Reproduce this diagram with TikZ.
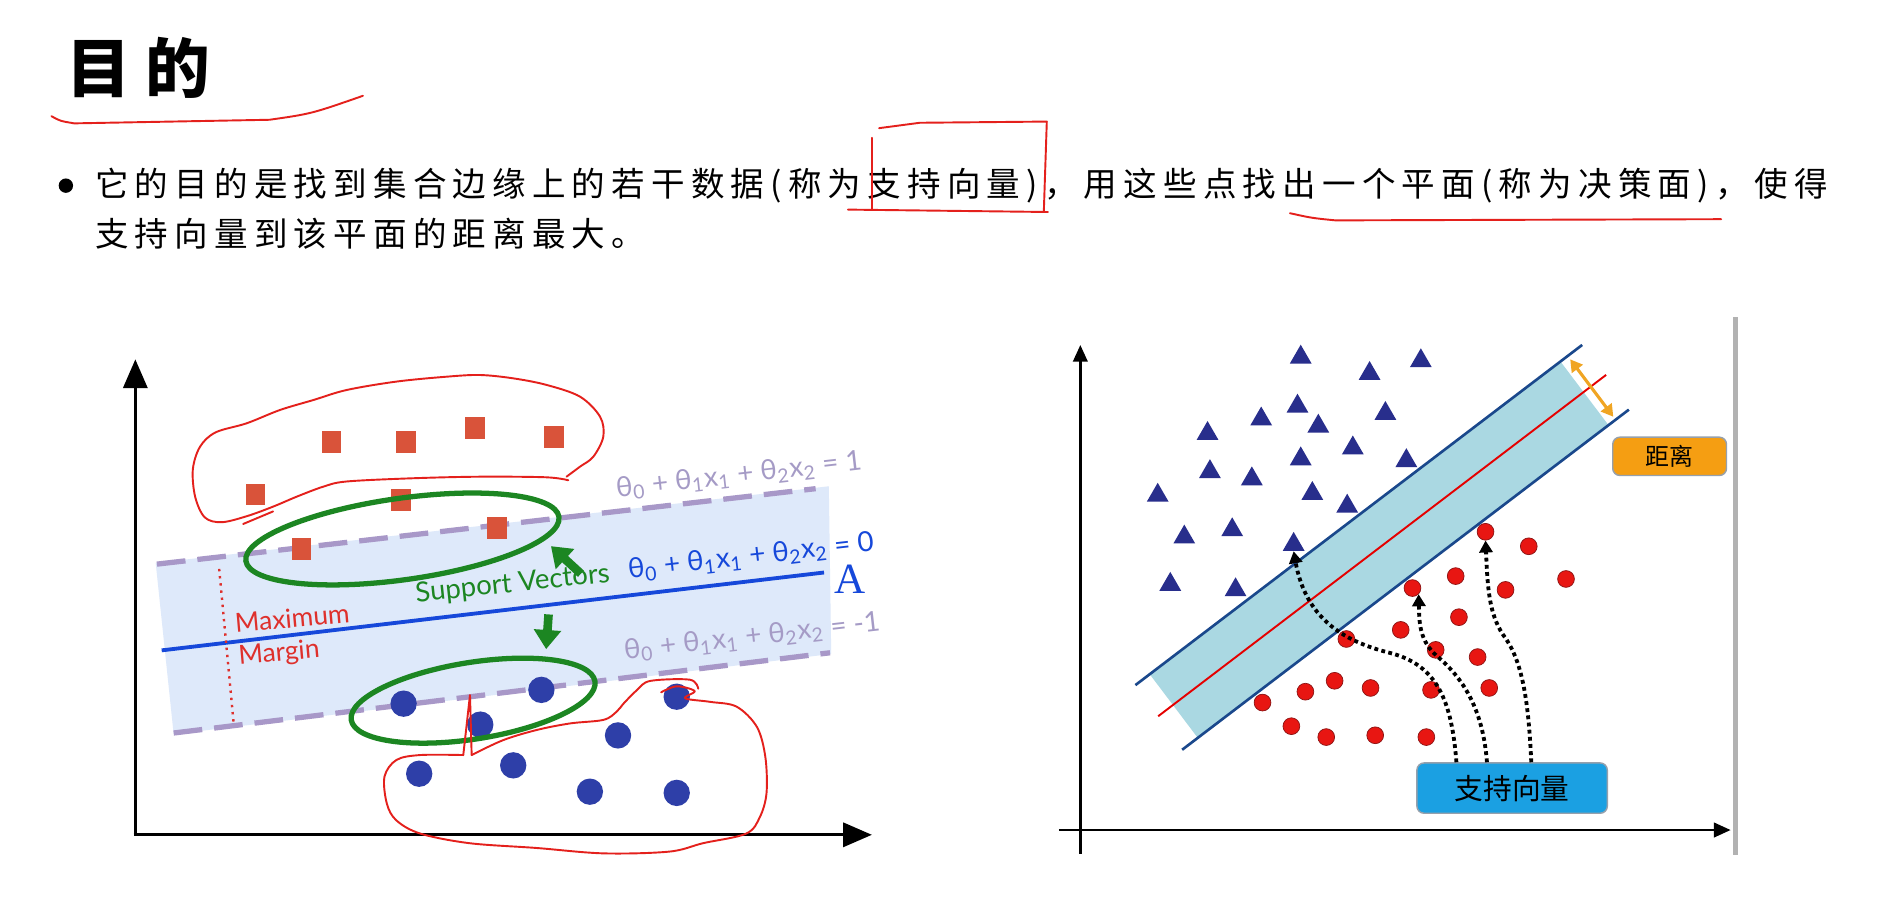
\documentclass[tikz,border=0pt]{standalone}
\usepackage{fontspec}
\usetikzlibrary{arrows.meta,shapes.geometric,calc}
\newfontfamily\cjk{Noto Sans CJK SC}
\newfontfamily\cjkline{Noto Sans CJK SC}[LetterSpace=18.5]
\newfontfamily\cjktitle{Noto Sans CJK SC}[LetterSpace=22]
\newfontfamily\lat{Lato}
\newfontfamily\serifA{Liberation Serif}
\definecolor{annored}{RGB}{228,32,28}
\definecolor{sqred}{RGB}{217,83,58}
\definecolor{dotblue}{RGB}{46,63,168}
\definecolor{svgreen}{RGB}{28,134,34}
\definecolor{bandblue}{RGB}{222,233,250}
\definecolor{dashpurple}{RGB}{168,152,200}
\definecolor{lineblue}{RGB}{22,72,218}
\definecolor{eqgray}{RGB}{165,155,198}
\definecolor{margred}{RGB}{222,48,44}
\definecolor{bandcyan}{RGB}{170,216,226}
\definecolor{navyline}{RGB}{26,72,140}
\definecolor{trinavy}{RGB}{40,46,140}
\definecolor{dotred}{RGB}{232,22,18}
\definecolor{dotredline}{RGB}{140,20,20}
\definecolor{distorange}{RGB}{240,165,35}
\definecolor{boxorange}{RGB}{245,158,18}
\definecolor{boxblue}{RGB}{27,160,226}
\definecolor{boxline}{RGB}{150,160,172}
\tikzset{
  anno/.style={annored, line width=0.8pt, line join=round, line cap=round},
  sqpt/.style={rectangle, fill=sqred, minimum width=8pt, minimum height=9pt, inner sep=0pt},
  cpt/.style={circle, fill=dotblue, minimum size=11pt, inner sep=0pt},
  tri/.style={regular polygon, regular polygon sides=3, fill=trinavy, minimum size=10.5pt, inner sep=0pt},
  rdot/.style={circle, fill=dotred, draw=dotredline, line width=0.3pt, minimum size=7pt, inner sep=0pt},
  bigaxis/.style={black, line width=1.4pt, -{Triangle[width=10pt,length=12pt]}},
  smallaxis/.style={black, line width=1.2pt, -{Triangle[width=6pt,length=7pt]}},
  dashline/.style={dashpurple, line width=2.2pt, dash pattern=on 12pt off 5pt},
  eqg/.style={eqgray, font=\lat\fontsize{11.6pt}{13pt}\selectfont, inner sep=0pt},
  eqb/.style={lineblue, font=\lat\fontsize{11.6pt}{13pt}\selectfont, inner sep=0pt},
  margtext/.style={margred, font=\lat\fontsize{11pt}{13pt}\selectfont, inner sep=0pt},
  svtext/.style={svgreen, font=\lat\fontsize{11.5pt}{13pt}\selectfont, inner sep=0pt},
  svarrow/.style={svgreen, line width=3.6pt, -{Triangle[width=11pt,length=8pt]}},
  dotarr/.style={black, line width=1.6pt, dash pattern=on 1.6pt off 1.4pt, -{Triangle[width=5.5pt,length=5pt]}},
  labelbox/.style={draw=boxline, line width=0.6pt, rounded corners=3pt, inner sep=0pt},
}
\begin{document}
\begin{tikzpicture}[x=0.5pt,y=-0.5pt]
\useasboundingbox (0,0) rectangle (1568,771);
\fill[white] (0,0) rectangle (1568,771);

% ---------- header ----------
\node[anchor=west, inner sep=0pt, font=\cjktitle\bfseries\fontsize{27pt}{30pt}\selectfont] (title) at (55,57) {目的};
\draw[anno] (43,97) .. controls (50,101) .. (62,103) -- (225,100) .. controls (260,95) .. (303,80);

\node[circle, fill=black, minimum size=6pt, inner sep=0pt] (bul) at (55,155) {};
\node[anchor=west, inner sep=0pt, font=\cjkline\fontsize{14pt}{16pt}\selectfont] (l1) at (79,155)
  {它的目的是找到集合边缘上的若干数据(称为支持向量)，用这些点找出一个平面(称为决策面)，使得};
\node[anchor=west, inner sep=0pt, font=\cjkline\fontsize{14pt}{16pt}\selectfont] (l2) at (79,195)
  {支持向量到该平面的距离最大。};

\draw[anno] (728,115) -- (728,175);
\draw[anno] (734,107) -- (768,102.5) -- (874,101.5) -- (871.5,177);
\draw[anno] (708,175) -- (875,177);
\draw[anno] (1077,178) .. controls (1095,182) .. (1115,184) -- (1437,183);

% ---------- left plot ----------
\fill[bandblue] (130,470) -- (692,406) -- (694,546) -- (145,613) -- cycle;
\draw[dashline] (131,471) -- (681,408);
\draw[dashline] (145,612) -- (693,545);
\draw[lineblue, line width=1.6pt] (135,543) -- (688,478);
\draw[margred, dotted, line width=1pt] (183,475) -- (195,603);

\coordinate (lo) at (113,697);
\coordinate (ly) at (113,300);
\coordinate (lx) at (728,697);
\draw[bigaxis] (lo) -- (ly);
\draw[bigaxis] ([xshift=-0.7pt]lo) -- (lx);

\node[margtext, rotate=5] (maxt) at (244,516) {Maximum};
\node[margtext, rotate=5] (mart) at (233,546) {Margin};
\node[svtext, rotate=6] (svt) at (428,488) {Support Vectors};
\node[eqg, rotate=6.5] (eq1) at (617,397) {θ\textsubscript{0} + θ\textsubscript{1}x\textsubscript{1} + θ\textsubscript{2}x\textsubscript{2} = 1};
\node[eqb, rotate=6.5] (eq0) at (627,465) {θ\textsubscript{0} + θ\textsubscript{1}x\textsubscript{1} + θ\textsubscript{2}x\textsubscript{2} = 0};
\node[eqg, rotate=6.5] (eqm) at (628,532) {θ\textsubscript{0} + θ\textsubscript{1}x\textsubscript{1} + θ\textsubscript{2}x\textsubscript{2} = -1};
\node[lineblue, inner sep=0pt, font=\serifA\fontsize{18pt}{20pt}\selectfont] (A) at (710,484) {A};

\foreach \x/\y [count=\i] in {277/369, 339/369, 396.6/357.5, 462.6/365, 213.4/413, 334.8/417.6, 415/441, 251.8/458.6}
  \node[sqpt] (sq\i) at (\x,\y) {};
\foreach \x/\y [count=\i] in {452/576, 337/587.5, 401/605, 565/581.7, 516/614, 350/646, 428.5/639, 492.5/661, 565/662}
  \node[cpt] (c\i) at (\x,\y) {};

\draw[svgreen, line width=2.2pt, rotate around={8:(336,450)}] (336,450) ellipse [x radius=132, y radius=34];
\draw[svgreen, line width=2.2pt, rotate around={9:(395,585)}] (395,585) ellipse [x radius=103, y radius=32];
\coordinate (sva) at (485,479);
\coordinate (svah) at (460,456);
\coordinate (svb) at (458,513);
\coordinate (svbh) at (456,542);
\draw[svarrow] (sva) -- (svah);
\draw[svarrow] (svb) -- (svbh);

% red hand-drawn outlines
\draw[anno] plot[smooth, tension=0.55] coordinates {(474.5,401) (456,398.5) (401,398) (345,399.3) (289.5,402) (270,406.3) (247.7,414.7) (228,423) (206,431) (185,436) (171,432) (163,415) (161,392) (167,373) (180,361) (206,353.4) (233.8,342.3) (261.6,334) (289.5,325.6) (331,318.6) (373,314.5) (400.8,313.1) (428.6,315.9) (456.4,321.4) (484.3,331.2) (501,347.9) (503.7,364.6) (495.4,381.3) (484.3,389.6) (473,398)};
\draw[anno] (203,437.5) -- (228,427);
\draw[anno] plot[smooth, tension=0.55] coordinates {(393.8,630.4) (420,618) (448,609.5) (476,604) (504,601) (515,594) (521,587) (532,576) (543,568.5) (576,567.5) (583,575)};
\draw[anno] plot[smooth, tension=0.55] coordinates {(552,578) (565,573) (580,577) (572,583) (593,586) (615,590) (632,607) (639,632) (640,662) (634.5,682) (623,696) (587,704) (559,711) (504,712.5) (448,708) (392,704) (351,696) (331,685) (323,671) (321,648.5) (331,634.5) (351,630.4) (386.8,630.4)};
\draw[anno] (386.8,630.4) -- (392.4,580.3) -- (393.8,630.4);

% ---------- right plot ----------
\fill[bandcyan] (960,563) -- (1303,302) -- (1343,355) -- (1000,616) -- cycle;
\draw[navyline, line width=1.1pt] (948,572) -- (1321,288);
\draw[navyline, line width=1.1pt] (987,626) -- (1360,342);
\draw[red!90!black, line width=0.8pt] (967,598) -- (1341,313);
\coordinate (da) at (1311,300);
\coordinate (db) at (1347,348);
\draw[distorange, line width=1.3pt, {Triangle[width=5.5pt,length=5pt]}-{Triangle[width=5.5pt,length=5pt]}] (da) -- (db);

\draw[smallaxis] (902,713) -- (902,288);
\draw[smallaxis] (884,693) -- (1445,693);
\draw[black!30, line width=2pt] (1449,265) -- (1449,714);

\foreach \x/\y [count=\i] in {1086/298.3, 1143.5/311.9, 1186.3/301.3, 1083.3/339.2, 1053/349.9, 1100.7/355.9, 1156.7/345.3, 1008.2/362, 1129.5/374.1, 1086/383.2, 1174.2/384.7, 1010.2/393.9, 1045.2/399.9, 966.6/413.6, 1095.7/412.1, 1124.8/422.7, 988.8/448.5, 1028.8/442.4, 1080.1/454.6, 977.1/488, 1031.6/492.5}
  \node[tri] (t\i) at (\x,\y) {};
\foreach \x/\y [count=\i] in {1240.3/444, 1276.4/456.1, 1307.5/483.4, 1215.4/481, 1179.3/491, 1257/492.5, 1218.1/515.3, 1169.5/525.9, 1124.1/533.5, 1198.7/542.6, 1233.7/548.6, 1114.3/568.4, 1089.9/577.5, 1144.3/574.4, 1194.8/576, 1243.4/574.4, 1054.1/586.6, 1078.2/606.3, 1107.3/615.4, 1148.2/613.9, 1190.9/615.4}
  \node[rdot] (r\i) at (\x,\y) {};

\node[labelbox, fill=boxorange, minimum width=47.5pt, minimum height=16pt, font=\cjk\fontsize{10pt}{12pt}\selectfont] (dist) at (1394,381) {距离};
\node[labelbox, fill=boxblue, minimum width=79.5pt, minimum height=21pt, font=\cjk\fontsize{12pt}{14pt}\selectfont] (svbox) at (1262.5,658) {支持向量};

\draw[dotarr] ($(svbox.north)+(-46.5,0)$) .. controls (1212,585) and (1200,555) .. (1160,545) .. controls (1120,535) and (1090,515) .. (t19.south);
\draw[dotarr] ($(svbox.north)+(-21,0)$) .. controls (1238,590) and (1220,565) .. (1200,548) .. controls (1185,535) and (1185,520) .. (r5.south east);
\draw[dotarr] ($(svbox.north)+(16,0)$) .. controls (1276,580) and (1270,550) .. (1255,530) .. controls (1243,512) and (1242,490) .. (r1.south);
\end{tikzpicture}
\end{document}
